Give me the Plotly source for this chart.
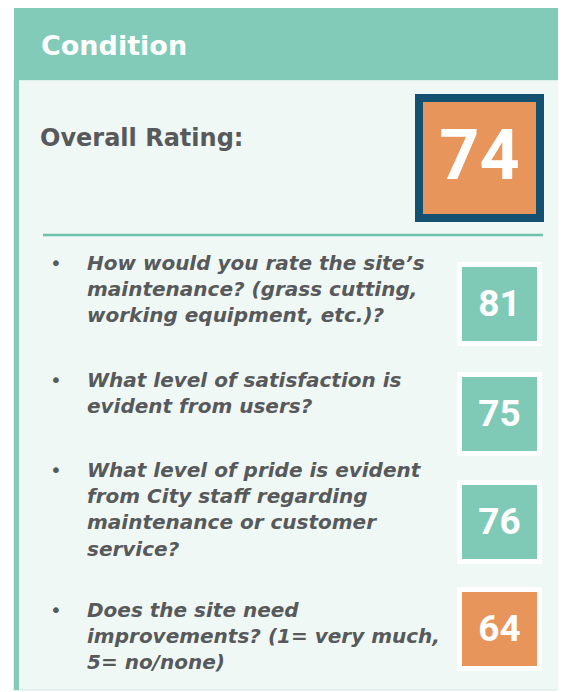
import plotly.graph_objects as go

# ---------------- data ----------------
header_title = "Condition"
overall_label = "Overall Rating:"
overall_score = [74]
questions = [
    ["How would you rate the site\u2019s", "maintenance? (grass cutting,", "working equipment, etc.)?"],
    ["What level of satisfaction is", "evident from users?"],
    ["What level of pride is evident", "from City staff regarding", "maintenance or customer", "service?"],
    ["Does the site need", "improvements? (1= very much,", "5= no/none)"],
]
scores = [81, 75, 76, 64]
threshold = 75  # scores below this are highlighted orange

# ---------------- style / layout ----------------
W, H = 566, 692
PAGE_MARGIN = 8  # default browser body margin
TEAL_HEAD = "#82cbb8"
TEAL_BOX = "#7fcab6"
TEAL_LINE = "#6cc3ab"
BODY_BG = "#eff8f5"
ORANGE = "#e8955c"
NAVY = "#14506f"
GRAY = "#58595b"
TXT_FONT = "DejaVu Sans"
NUM_FONT = "Roboto"

q_first_baseline = [270, 387, 477, 617]
line_gap = 26.3
box_tops = [262, 372, 480, 587]
box_h = 84
box_x0, box_x1 = 457, 542
frame = 5
q_size = 20

fig = go.Figure()
shapes = []
ann = []

# page panel
shapes.append(dict(type="rect", x0=14, x1=560, y0=80, y1=690, fillcolor=BODY_BG,
                   line=dict(color="#cfe9e1", width=1.2), layer="below"))
shapes.append(dict(type="rect", x0=14, x1=19, y0=80, y1=690, fillcolor=TEAL_HEAD,
                   line=dict(width=0), layer="below"))
# header band
shapes.append(dict(type="rect", x0=14, x1=567, y0=8, y1=80, fillcolor=TEAL_HEAD,
                   line=dict(width=0), layer="below"))
ann.append(dict(x=39, y=55 - 0.36 * 27, text="<b>" + header_title + "</b>", showarrow=False,
                xanchor="left", yanchor="middle", font=dict(family=TXT_FONT, size=27, color="white")))

# overall rating
ann.append(dict(x=38, y=147 - 0.36 * 24, text="<b>" + overall_label + "</b>", showarrow=False,
                xanchor="left", yanchor="middle", font=dict(family=TXT_FONT, size=24, color=GRAY)))
shapes.append(dict(type="rect", x0=415, x1=544, y0=94, y1=222, fillcolor=NAVY,
                   line=dict(width=0), layer="below"))
shapes.append(dict(type="rect", x0=423, x1=536, y0=102, y1=214,
                   fillcolor=ORANGE if overall_score[0] < threshold else TEAL_BOX,
                   line=dict(width=0), layer="below"))

# separator
shapes.append(dict(type="line", x0=43, x1=543, y0=235, y1=235,
                   line=dict(color=TEAL_LINE, width=2.5), layer="below"))

# questions
for i, lines in enumerate(questions):
    b0 = q_first_baseline[i]
    ann.append(dict(x=56, y=b0 - 0.36 * q_size, text="\u2022", showarrow=False,
                    xanchor="center", yanchor="middle",
                    font=dict(family=TXT_FONT, size=q_size, color=GRAY)))
    for j, ln in enumerate(lines):
        ann.append(dict(x=85, y=b0 + j * line_gap - 0.36 * q_size,
                        text="<b><i>" + ln + "</i></b>", showarrow=False,
                        xanchor="left", yanchor="middle",
                        font=dict(family=TXT_FONT, size=q_size, color=GRAY)))
    t = box_tops[i]
    shapes.append(dict(type="rect", x0=box_x0, x1=box_x1, y0=t, y1=t + box_h,
                       fillcolor="white", line=dict(width=0), layer="below"))
    shapes.append(dict(type="rect", x0=box_x0 + frame, x1=box_x1 - frame,
                       y0=t + frame, y1=t + box_h - frame,
                       fillcolor=ORANGE if scores[i] < threshold else TEAL_BOX,
                       line=dict(width=0), layer="below"))

# score numbers drawn through the axes
fig.add_trace(go.Scatter(
    x=[(box_x0 + box_x1) / 2] * len(scores),
    y=[t + box_h / 2 + 3 for t in box_tops],
    mode="text", text=["<b>%d</b>" % s for s in scores], textposition="middle center",
    textfont=dict(family=NUM_FONT, size=37, color="white"), hoverinfo="skip"))
fig.add_trace(go.Scatter(
    x=[479.5], y=[161], mode="text", text=["<b>%d</b>" % s for s in overall_score],
    textposition="middle center",
    textfont=dict(family=NUM_FONT, size=70, color="white"), hoverinfo="skip"))

fig.update_layout(
    width=W - PAGE_MARGIN, height=H - PAGE_MARGIN, margin=dict(l=0, r=0, t=0, b=0),
    paper_bgcolor="white", plot_bgcolor="white", showlegend=False,
    xaxis=dict(range=[PAGE_MARGIN, W], visible=False, fixedrange=True),
    yaxis=dict(range=[H, PAGE_MARGIN], visible=False, fixedrange=True),
    shapes=shapes, annotations=ann,
)
fig.write_html("out.html")
